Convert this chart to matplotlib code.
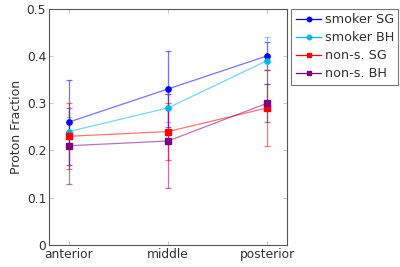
import matplotlib
matplotlib.use("Agg")
import matplotlib.pyplot as plt
from matplotlib.lines import Line2D

regions = ["anterior", "middle", "posterior"]

smoker_sg = [0.26, 0.33, 0.40]
smoker_sg_err = [0.09, 0.08, 0.03]
smoker_bh = [0.24, 0.29, 0.39]
smoker_bh_err = [0.03, 0.03, 0.05]
nons_sg = [0.23, 0.24, 0.29]
nons_sg_err = [0.07, 0.06, 0.08]
nons_bh = [0.21, 0.22, 0.30]
nons_bh_err = [0.08, 0.10, 0.04]

series = [
    ("smoker SG", smoker_sg, smoker_sg_err, "#0000ff", "o"),
    ("smoker BH", smoker_bh, smoker_bh_err, "#00b4f0", "o"),
    ("non-s. SG", nons_sg, nons_sg_err, "#ff0000", "s"),
    ("non-s. BH", nons_bh, nons_bh_err, "#800080", "s"),
]

plt.rcParams["font.family"] = ["DejaVu Sans"]
plt.rcParams["text.color"] = "#303030"
plt.rcParams["axes.labelcolor"] = "#303030"
plt.rcParams["xtick.labelcolor"] = "#303030"
plt.rcParams["ytick.labelcolor"] = "#303030"

fig = plt.figure(figsize=(4, 2.67), dpi=100)
ax = fig.add_axes([0.1225, 0.082, 0.595, 0.886])

x = list(range(len(regions)))
for label, vals, errs, color, marker in series:
    # faded line and error bars
    ax.errorbar(x, vals, yerr=errs, color=color, ecolor=color, elinewidth=0.9,
                capsize=2, capthick=0.9, linewidth=0.9, alpha=0.55, zorder=2)
    # solid markers on top
    ax.plot(x, vals, color=color, marker=marker, markersize=3.8,
            linestyle="none", zorder=4)

handles = [Line2D([0], [0], color=c, marker=m, markersize=3.2, linewidth=0.9)
           for _, _, _, c, m in series]
leg = ax.legend(handles, [s[0] for s in series], loc="upper left",
                bbox_to_anchor=(1.018, 1.0), borderaxespad=0, frameon=True,
                fancybox=False, edgecolor="#555555", handlelength=2.0,
                handletextpad=0.25, labelspacing=0.4, borderpad=0.35,
                fontsize=9.2)
leg.get_frame().set_linewidth(0.8)

ax.set_xlim(-0.2, 2.2)
ax.set_ylim(0, 0.5)
ax.set_xticks(x)
ax.set_xticklabels(regions)
ax.set_yticks([0, 0.1, 0.2, 0.3, 0.4, 0.5])
ax.set_yticklabels(["0", "0.1", "0.2", "0.3", "0.4", "0.5"])
ax.set_ylabel("Proton Fraction", fontsize=9, labelpad=3)
ax.tick_params(direction="in", top=True, right=True, length=3, width=0.6,
               color="#bbbbbb", labelsize=8.8, pad=2)
for sp in ax.spines.values():
    sp.set_color("#555555")
    sp.set_linewidth(0.8)

fig.savefig("out.png", dpi=100)
